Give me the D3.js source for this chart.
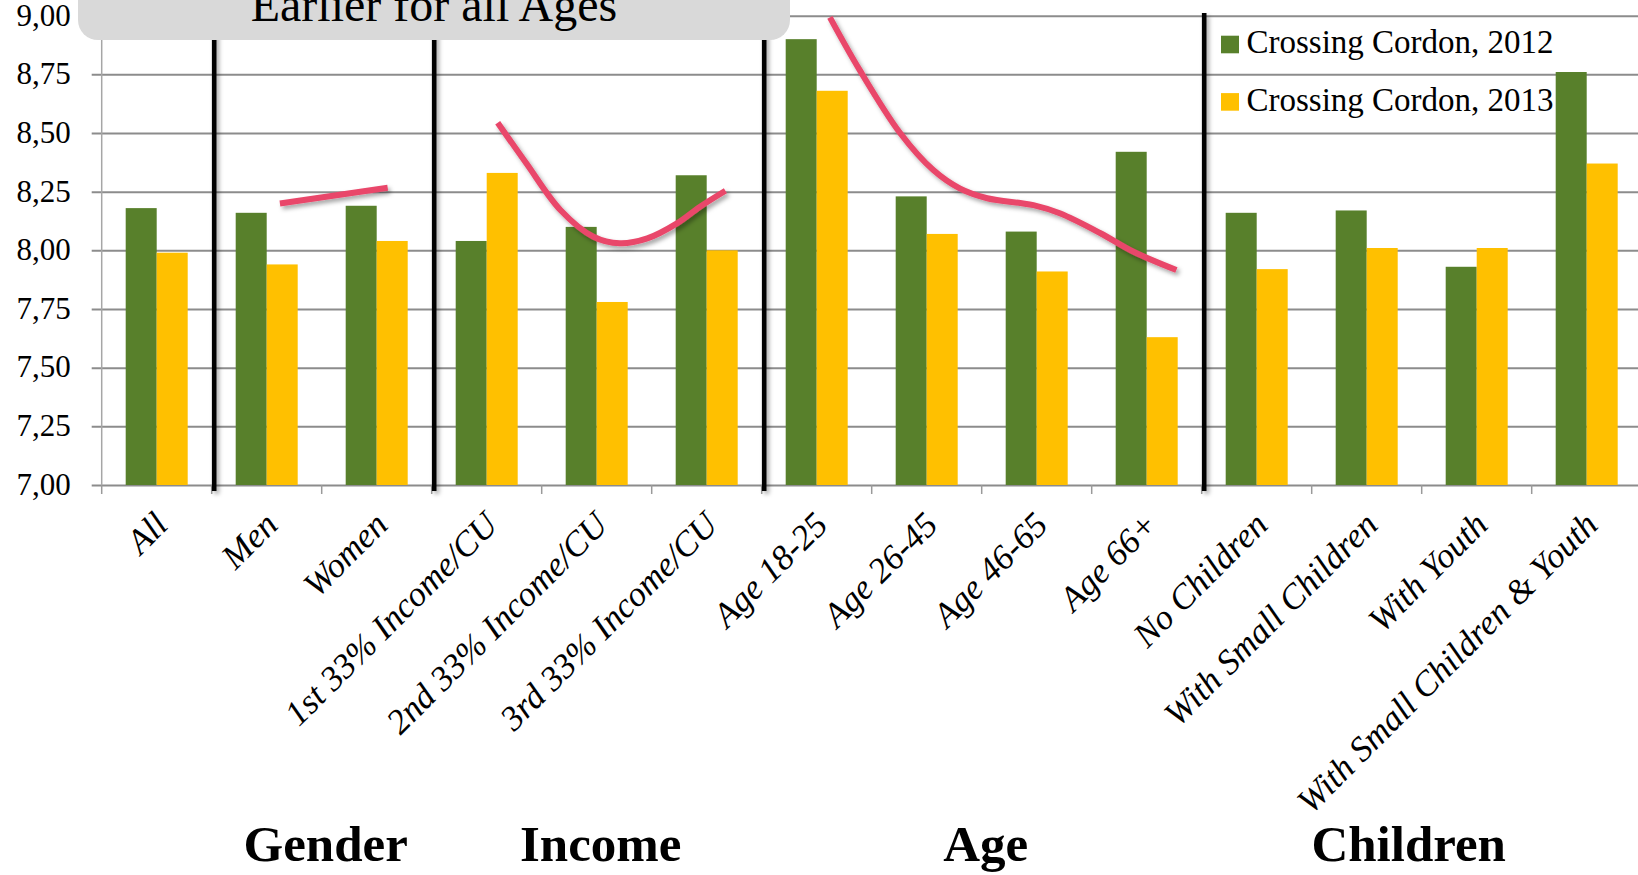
<!DOCTYPE html>
<html>
<head>
<meta charset="utf-8">
<script src="https://cdn.jsdelivr.net/npm/d3@7"></script>
<style>
  html, body { margin: 0; padding: 0; background: #fff; overflow: hidden; }
  svg { display: block; font-family: "Liberation Serif", "Times New Roman", serif; }
</style>
</head>
<body>
<svg id="chart"></svg>
<script>
const categories = ['All', 'Men', 'Women', '1st 33% Income/CU', '2nd 33% Income/CU', '3rd 33% Income/CU',
  'Age 18-25', 'Age 26-45', 'Age 46-65', 'Age 66+', 'No Children', 'With Small Children',
  'With Youth', 'With Small Children & Youth'];
const values2012 = [8.18, 8.16, 8.19, 8.04, 8.10, 8.32, 8.90, 8.23, 8.08, 8.42, 8.16, 8.17, 7.93, 8.76];
const values2013 = [7.99, 7.94, 8.04, 8.33, 7.78, 8.00, 8.68, 8.07, 7.91, 7.63, 7.92, 8.01, 8.01, 8.37];
const seriesNames = ['Crossing Cordon, 2012', 'Crossing Cordon, 2013'];
const yTicks = [7.00, 7.25, 7.50, 7.75, 8.00, 8.25, 8.50, 8.75, 9.00];

// group separators (index of the category after which a black line is drawn) and group titles
const separators = [1, 3, 6, 10];
const groupNames = ['Gender', 'Income', 'Age', 'Children'];
const groupStart = [1, 3, 6, 10];
const groupEnd = [3, 6, 10, 14];

// hand drawn red trend strokes: [position in category units, value]
const genderTrend = [[1.62, 8.200], [2.60, 8.267]];
const incomeTrend = [[3.60, 8.544], [3.86, 8.371], [4.17, 8.172], [4.47, 8.058], [4.71, 8.030],
  [4.96, 8.051], [5.23, 8.115], [5.44, 8.186], [5.67, 8.254]];
const ageTrend = [[6.62, 8.993], [6.89, 8.769], [7.26, 8.499], [7.56, 8.342], [7.80, 8.264],
  [8.05, 8.222], [8.47, 8.193], [8.71, 8.158], [9.08, 8.073], [9.38, 7.994], [9.77, 7.916]];

const width = 1638;
const height = 875;
const plotLeft = 101.7, plotRight = 1641.7, plotTop = 15.7, plotBottom = 485;
const serif = 'Liberation Serif, Times New Roman, serif';
const green = '#58802b';
const yellow = '#ffc000';
const red = '#e9476b';

const svg = d3.select('#chart')
    .attr('width', width)
    .attr('height', height)
    .attr('font-family', serif);

const defs = svg.append('defs');
const shadow = defs.append('filter').attr('id', 'shadow')
    .attr('filterUnits', 'userSpaceOnUse')
    .attr('x', 0).attr('y', 0).attr('width', width).attr('height', height);
shadow.append('feDropShadow')
    .attr('dx', 2.5).attr('dy', 3).attr('stdDeviation', 2)
    .attr('flood-color', '#000').attr('flood-opacity', 0.35);

const x = d3.scaleBand()
    .domain(categories)
    .range([plotLeft, plotRight]);

const xPos = d3.scaleLinear()
    .domain([0, categories.length])
    .range([plotLeft, plotRight]);

const x1 = d3.scaleBand()
    .domain(seriesNames)
    .range([0, x.bandwidth()])
    .paddingOuter(0.774);

const y = d3.scaleLinear()
    .domain([7, 9])
    .range([plotBottom, plotTop]);

// gridlines + y labels
const yAxis = d3.axisLeft(y)
    .tickValues(yTicks)
    .tickSize(-(width - plotLeft + 10))
    .tickFormat(d => d3.format('.2f')(d).replace('.', ','));

const gy = svg.append('g')
    .attr('transform', `translate(${plotLeft},0)`)
    .call(yAxis);
gy.attr('font-family', serif).attr('font-size', 31);
gy.select('.domain').remove();
gy.selectAll('.tick line')
    .attr('x1', -10)
    .attr('stroke', '#8c8c8c')
    .attr('stroke-width', 2);
gy.selectAll('.tick text')
    .attr('x', -31)
    .attr('dy', '0.3em')
    .attr('fill', '#000')
    .attr('font-family', serif)
    .attr('font-size', 31);

// y axis line
svg.append('line')
    .attr('x1', plotLeft).attr('x2', plotLeft)
    .attr('y1', plotTop).attr('y2', plotBottom)
    .attr('stroke', '#a6a6a6')
    .attr('stroke-width', 1.5);

// bottom ticks
svg.append('g')
    .selectAll('line')
    .data(d3.range(categories.length + 1))
    .enter().append('line')
    .attr('x1', i => xPos(i))
    .attr('x2', i => xPos(i))
    .attr('y1', plotBottom)
    .attr('y2', plotBottom + 9)
    .attr('stroke', '#9a9a9a')
    .attr('stroke-width', 1.5);

// bars
const rows = categories.map((c, i) => ({ category: c, values: [values2012[i], values2013[i]] }));
const colors = d3.scaleOrdinal().domain(seriesNames).range([green, yellow]);

svg.append('g')
    .selectAll('g')
    .data(rows)
    .enter().append('g')
    .attr('transform', d => `translate(${x(d.category)},0)`)
    .selectAll('rect')
    .data(d => d.values.map((v, k) => ({ key: seriesNames[k], value: v })))
    .enter().append('rect')
    .attr('x', d => x1(d.key))
    .attr('width', x1.bandwidth())
    .attr('y', d => y(d.value))
    .attr('height', d => y(7) - y(d.value))
    .attr('fill', d => colors(d.key));

// black group separators
svg.append('g')
    .selectAll('rect')
    .data(separators)
    .enter().append('rect')
    .attr('x', i => xPos(i) + 0.2)
    .attr('width', 4.6)
    .attr('y', 13)
    .attr('height', plotBottom + 6 - 13)
    .attr('fill', '#000')
    .attr('filter', 'url(#shadow)');

// title box
svg.append('rect')
    .attr('x', 78)
    .attr('y', -40)
    .attr('width', 712)
    .attr('height', 80)
    .attr('rx', 20)
    .attr('fill', '#d9d9d9');

svg.append('text')
    .attr('x', 434)
    .attr('y', 21)
    .attr('text-anchor', 'middle')
    .attr('font-size', 48)
    .attr('fill', '#000')
    .text('Earlier for all Ages');

// red trend strokes
const trendLine = d3.line()
    .x(d => xPos(d[0]))
    .y(d => y(d[1]))
    .curve(d3.curveCatmullRom.alpha(0.5));

svg.append('g')
    .selectAll('path')
    .data([genderTrend, incomeTrend, ageTrend])
    .enter().append('path')
    .attr('d', trendLine)
    .attr('fill', 'none')
    .attr('stroke', red)
    .attr('stroke-width', 6)
    .attr('filter', 'url(#shadow)');

// legend
const legend = svg.append('g')
    .selectAll('g')
    .data(seriesNames)
    .enter().append('g')
    .attr('transform', (d, i) => `translate(1221,${53.3 + i * 57.4})`);

legend.append('rect')
    .attr('x', 0)
    .attr('y', -17.6)
    .attr('width', 18)
    .attr('height', 17.6)
    .attr('fill', d => colors(d));

legend.append('text')
    .attr('x', 25.5)
    .attr('y', 0)
    .attr('font-size', 33)
    .attr('fill', '#000')
    .text(d => d);

// rotated category labels
svg.append('g')
    .selectAll('text')
    .data(categories)
    .enter().append('text')
    .attr('transform', d => `translate(${x(d) + x.bandwidth() / 2 - 4},510) rotate(-45)`)
    .attr('dy', '0.68em')
    .attr('text-anchor', 'end')
    .attr('font-style', 'italic')
    .attr('font-size', 35)
    .attr('fill', '#000')
    .text(d => d);

// group titles
svg.append('g')
    .selectAll('text')
    .data(groupNames)
    .enter().append('text')
    .attr('x', (d, i) => (xPos(groupStart[i]) + xPos(groupEnd[i])) / 2 + (i === 3 ? -13 : 4))
    .attr('y', 861)
    .attr('text-anchor', 'middle')
    .attr('font-weight', 'bold')
    .attr('font-size', 51)
    .attr('fill', '#000')
    .text(d => d);
</script>
</body>
</html>
